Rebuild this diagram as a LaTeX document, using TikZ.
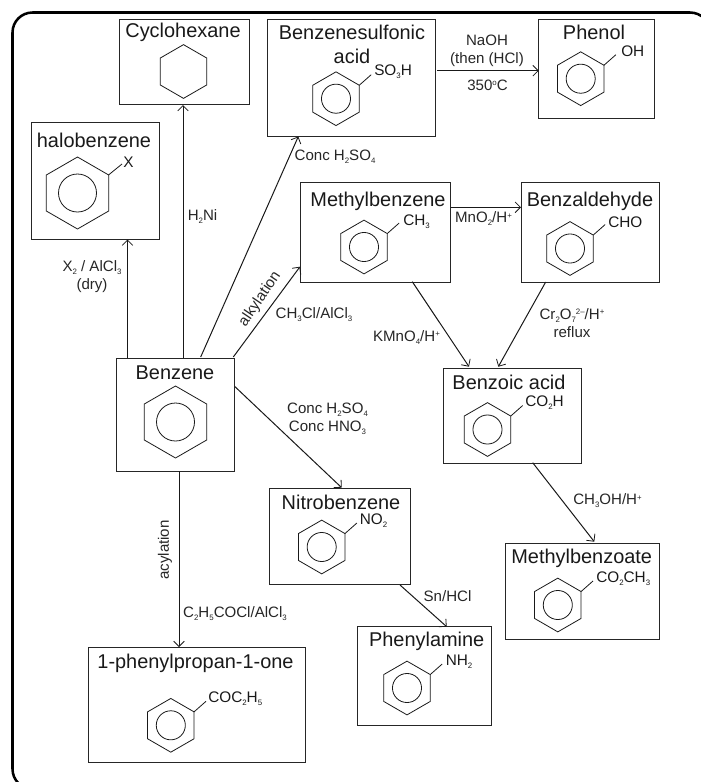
\documentclass[tikz,border=0pt]{standalone}
\usepackage{fontspec}
\setmainfont{Liberation Sans}
\usetikzlibrary{fit,calc,shapes.geometric,arrows.meta}
\newcommand{\dn}[1]{\raisebox{-2.3pt}{\fontsize{5.9}{6}\selectfont #1}}
\newcommand{\up}[1]{\raisebox{3.6pt}{\fontsize{5.9}{6}\selectfont #1}}
\tikzset{
  x=0.75pt,y=-0.75pt,
  box/.style={draw=black!85,line width=0.72pt,inner sep=0pt,outer sep=0pt,rectangle},
  hexa/.style={draw=black!90,line width=0.6pt,regular polygon,regular polygon sides=6,shape border rotate=30,inner sep=0pt,outer sep=0pt,minimum size=40.3pt},
  hexb/.style={hexa,minimum size=54pt},
  ina/.style={draw=black!90,line width=0.6pt,circle,inner sep=0pt,outer sep=0pt,minimum size=21.8pt},
  inb/.style={ina,minimum size=28.5pt},
  bond/.style={draw=black!90,line width=0.6pt},
  arr/.style={draw=black!90,line width=0.75pt,->,>={Straight Barb[length=4pt,width=8pt,line width=0.6pt]}},
  title/.style={font=\fontsize{14.95}{18}\selectfont,text=black!90,inner sep=0pt,align=center},
  lab/.style={font=\fontsize{11.3}{13.5}\selectfont,text=black!85,inner sep=0pt,align=center},
  sub/.style={font=\fontsize{11.5}{13}\selectfont,text=black!90,inner sep=0pt,anchor=west},
}
\newcommand{\ringa}[3]{%
  \node[hexa] (#1) at (#2,#3) {};
  \node[ina] (#1c) at (#1.center) {};
  \coordinate (#1e) at ($(#1.center)+(35.2,-24)$);
  \draw[bond] ($(#1.center)+(23.2,-13.4)$) -- (#1e);}
\begin{document}
\begin{tikzpicture}
\useasboundingbox (0,0) rectangle (700,782);
\node (frame) [draw=black,line width=1.9pt,rounded corners=15pt,inner sep=0pt,outer sep=0pt,fit={(12.5,12.5)(710,789)}] {};
% boxes
\node (cyc) [box,fit={(119,19)(249,104)}] {};
\node (sul) [box,fit={(267,19)(435.5,136.5)}] {};
\node (phe) [box,fit={(538.7,19)(654,118.5)}] {};
\node (hal) [box,fit={(31,122)(159,239.5)}] {};
\node (met) [box,fit={(300,182)(450.7,282)}] {};
\node (ald) [box,fit={(521,182)(659,282)}] {};
\node (ben) [box,fit={(116,358)(234.5,471)}] {};
\node (aci) [box,fit={(443,368)(581,463)}] {};
\node (nit) [box,fit={(269.5,488.7)(410.7,584)}] {};
\node (mbz) [box,fit={(505.7,543.7)(659,639)}] {};
\node (ami) [box,fit={(357.3,626.7)(491,725)}] {};
\node (one) [box,fit={(88.5,647)(305,762)}] {};
% titles
\node[title] (tcyc) at (183,32.5) {Cyclohexane};
\node[title] (tsul) at (352,44.5) {Benzenesulfonic\\acid};
\node[title] (tphe) at (594,32.5) {Phenol};
\node[title] (thal) at (94,140.5) {halobenzene};
\node[title] (tmet) at (378,201.5) {Methylbenzene};
\node[title] (tald) at (590,201.5) {Benzaldehyde};
\node[title] (tben) at (175,373) {Benzene};
\node[title] (taci) at (509,382.5) {Benzoic acid};
\node[title] (tnit) at (341,502.5) {Nitrobenzene};
\node[title] (tmbz) at (581.7,558.5) {Methylbenzoate};
\node[title] (tami) at (426.7,641.5) {Phenylamine};
\node[title] (tone) at (195.5,663.5) {1-phenylpropan-1-one};
% rings
\node[hexa] (rcyc) at (183.5,71.5) {};
\node[hexb] (rben) at (175.5,422) {};
\node[inb] (rbenc) at (rben.center) {};
\node[hexb] (rhal) at (77.5,193) {};
\node[inb] (rhalc) at (rhal.center) {};
\coordinate (rhale) at ($(rhal.center)+(44.5,-29)$);
\draw[bond] ($(rhal.center)+(31,-18)$) -- (rhale);
\ringa{rsul}{336}{98.7}
\ringa{rphe}{580.7}{78.7}
\ringa{rmet}{364}{247}
\ringa{rald}{570}{248.5}
\ringa{raci}{487.5}{429.5}
\ringa{rnit}{321.7}{547}
\ringa{rmbz}{557.8}{605}
\ringa{rami}{407}{688}
\ringa{rone}{170.8}{725.3}
% substituents
\node[sub] (shal) at (123,162) {X};
\node[sub] (ssul) at (374,71.5) {SO\dn{3}H};
\node[sub] (sphe) at (621,51.5) {OH};
\node[sub] (smet) at (403,221.5) {CH\dn{3}};
\node[sub] (sald) at (608,222) {CHO};
\node[sub] (saci) at (525,402.5) {CO\dn{2}H};
\node[sub] (snit) at (359.5,520.5) {NO\dn{2}};
\node[sub] (smbz) at (596,578.5) {CO\dn{2}CH\dn{3}};
\node[sub] (sami) at (445.5,661.5) {NH\dn{2}};
\node[sub] (sone) at (208,698.5) {COC\dn{2}H\dn{5}};
% connectors
\draw[arr] ($(ben.north west)+(11.5,0)$) -- ($(hal.south west)+(96.5,0)$);
\draw[arr] ($(ben.north west)+(67,0)$) -- ($(cyc.south west)+(64,1)$);
\draw[arr] ($(ben.north west)+(84.7,-1)$) -- ($(sul.south west)+(31.3,0)$);
\draw[arr] ($(ben.north east)+(-1.2,-1)$) -- ($(met.south west)+(0,-15.3)$);
\draw[arr] ($(ben.north east)+(0.5,28.7)$) -- ($(nit.north west)+(72.2,-1)$);
\draw[arr] ($(ben.south west)+(63,0)$) -- ($(one.north west)+(90.5,0)$);
\draw[arr] ($(sul.north east)+(1.8,51.7)$) -- ($(phe.north west)+(0,51.7)$);
\draw[arr] ($(met.north east)+(0,25.3)$) -- ($(ald.north west)+(0,25.3)$);
\draw[arr] ($(met.south east)+(-38.4,-0.3)$) -- ($(aci.north west)+(26,-1.3)$);
\draw[arr] ($(ald.south west)+(24.7,0)$) -- ($(aci.north west)+(55.3,-1.3)$);
\draw[arr] ($(aci.south west)+(89.7,-0.3)$) -- ($(mbz.north west)+(88.6,-2)$);
\draw[arr] ($(nit.south east)+(-10.7,1)$) -- ($(ami.north west)+(89.4,0)$);
% labels
\node[lab] (l1) at (92,277) {X\dn{2} / AlCl\dn{3}\\(dry)};
\node[lab] (l2) at (202.5,217) {H\dn{2}Ni};
\node[lab] (l3) at (335,156.5) {Conc H\dn{2}SO\dn{4}};
\node[lab,rotate=56] (l4) at (260,299) {alkylation};
\node[lab] (l5) at (314,315) {CH\dn{3}Cl/AlCl\dn{3}};
\node[lab] (l6) at (327.5,419) {Conc H\dn{2}SO\dn{4}\\Conc HNO\dn{3}};
\node[lab,rotate=90] (l7) at (165,550) {acylation};
\node[lab] (l8) at (235,614) {C\dn{2}H\dn{5}COCl/AlCl\dn{3}};
\node[lab] (l9) at (487,50.5) {NaOH\\(then (HCl)};
\node[lab] (l10) at (487.5,85) {350\up{o}C};
\node[lab] (l11) at (483.5,219) {MnO\dn{2}/H\up{+}};
\node[lab] (l12) at (406.5,337.5) {KMnO\dn{4}/H\up{+}};
\node[lab] (l13) at (572,323) {Cr\dn{2}O\dn{7}\up{2–}/H\up{+}\\reflux};
\node[lab] (l14) at (607.5,501) {CH\dn{3}OH/H\up{+}};
\node[lab] (l15) at (447.5,596.5) {Sn/HCl};
\end{tikzpicture}
\end{document}
